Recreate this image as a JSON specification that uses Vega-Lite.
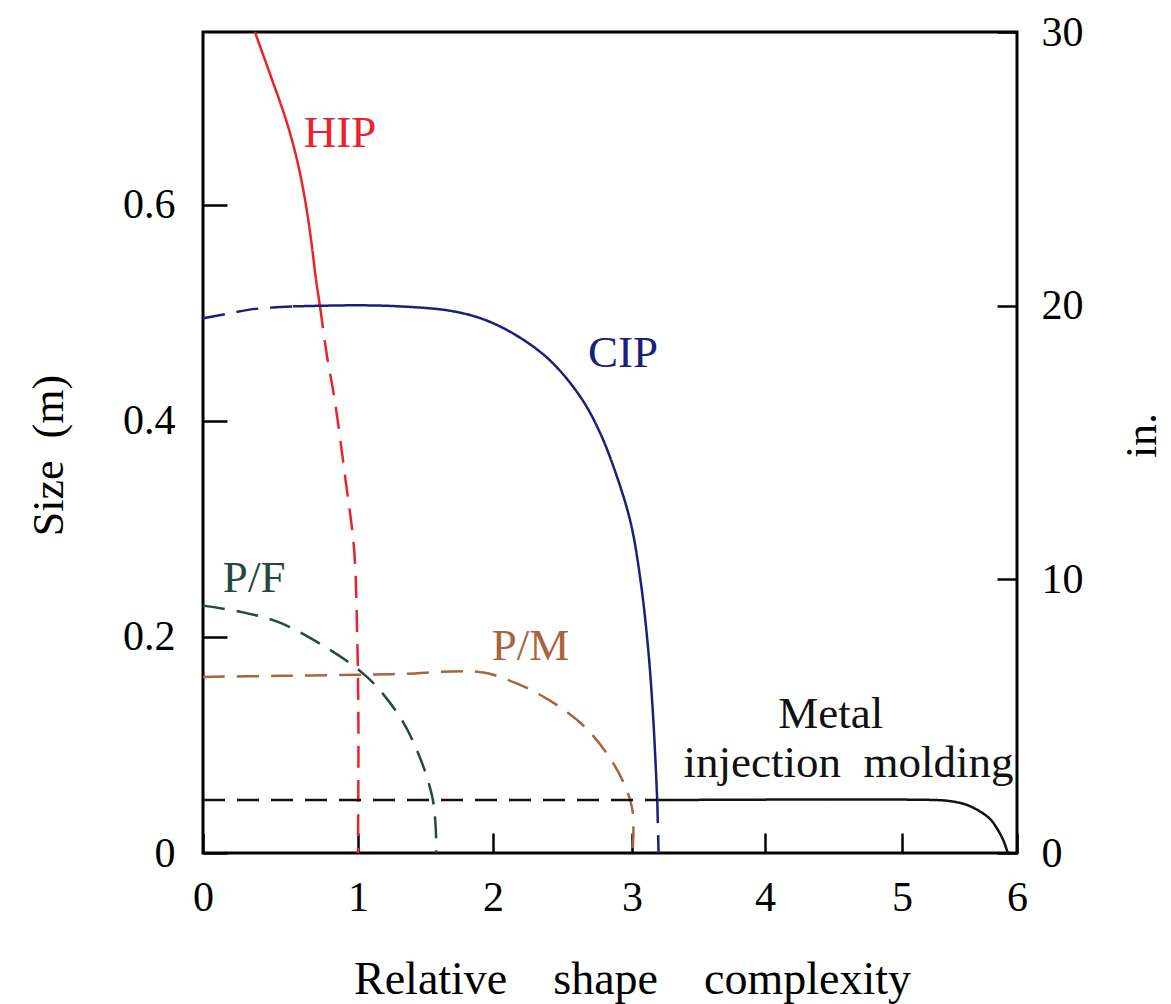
{
  "$schema": "https://vega.github.io/schema/vega-lite/v6.json",
  "width": 814,
  "height": 821,
  "autosize": {"type": "none"},
  "padding": {"left": 203, "top": 32, "right": 154, "bottom": 151},
  "background": "white",
  "config": {
    "view": {"stroke": "black", "strokeWidth": 3},
    "font": "Liberation Serif",
    "axis": {
      "domain": false,
      "grid": false,
      "tickColor": "black",
      "tickWidth": 2.5,
      "labelColor": "black",
      "labelFont": "Liberation Serif",
      "labelFontSize": 42,
      "labelFlush": false,
      "labelOverlap": false,
      "labelBound": false,
      "titleFont": "Liberation Serif",
      "titleFontSize": 44,
      "titleFontWeight": "normal",
      "titleColor": "black"
    }
  },
  "datasets": {
    "curves": [
      {"series": "HIP", "group": "HIP-s", "style": "solid", "i": 0, "x": 0.335, "y": 0.76},
      {"series": "HIP", "group": "HIP-s", "style": "solid", "i": 1, "x": 0.445, "y": 0.716},
      {"series": "HIP", "group": "HIP-s", "style": "solid", "i": 2, "x": 0.535, "y": 0.679},
      {"series": "HIP", "group": "HIP-s", "style": "solid", "i": 3, "x": 0.606, "y": 0.642},
      {"series": "HIP", "group": "HIP-s", "style": "solid", "i": 4, "x": 0.658, "y": 0.605},
      {"series": "HIP", "group": "HIP-s", "style": "solid", "i": 5, "x": 0.697, "y": 0.568},
      {"series": "HIP", "group": "HIP-s", "style": "solid", "i": 6, "x": 0.729, "y": 0.531},
      {"series": "HIP", "group": "HIP-s", "style": "solid", "i": 7, "x": 0.755, "y": 0.506},
      {"series": "HIP", "group": "HIP-d", "style": "dashed", "i": 0, "x": 0.755, "y": 0.506},
      {"series": "HIP", "group": "HIP-d", "style": "dashed", "i": 1, "x": 0.80, "y": 0.46},
      {"series": "HIP", "group": "HIP-d", "style": "dashed", "i": 2, "x": 0.85, "y": 0.419},
      {"series": "HIP", "group": "HIP-d", "style": "dashed", "i": 3, "x": 0.92, "y": 0.345},
      {"series": "HIP", "group": "HIP-d", "style": "dashed", "i": 4, "x": 0.975, "y": 0.281},
      {"series": "HIP", "group": "HIP-d", "style": "dashed", "i": 5, "x": 0.995, "y": 0.2},
      {"series": "HIP", "group": "HIP-d", "style": "dashed", "i": 6, "x": 1.003, "y": 0.12},
      {"series": "HIP", "group": "HIP-d", "style": "dashed", "i": 7, "x": 1.0, "y": 0.0},
      {"series": "CIP", "group": "CIP-d1", "style": "dashed", "i": 0, "x": 0.0, "y": 0.495},
      {"series": "CIP", "group": "CIP-d1", "style": "dashed", "i": 1, "x": 0.15, "y": 0.499},
      {"series": "CIP", "group": "CIP-d1", "style": "dashed", "i": 2, "x": 0.3, "y": 0.503},
      {"series": "CIP", "group": "CIP-d1", "style": "dashed", "i": 3, "x": 0.45, "y": 0.505},
      {"series": "CIP", "group": "CIP-d1", "style": "dashed", "i": 4, "x": 0.58, "y": 0.506},
      {"series": "CIP", "group": "CIP-s", "style": "solid", "i": 0, "x": 0.58, "y": 0.506},
      {"series": "CIP", "group": "CIP-s", "style": "solid", "i": 1, "x": 1.0, "y": 0.507},
      {"series": "CIP", "group": "CIP-s", "style": "solid", "i": 2, "x": 1.31, "y": 0.506},
      {"series": "CIP", "group": "CIP-s", "style": "solid", "i": 3, "x": 1.68, "y": 0.502},
      {"series": "CIP", "group": "CIP-s", "style": "solid", "i": 4, "x": 1.93, "y": 0.494},
      {"series": "CIP", "group": "CIP-s", "style": "solid", "i": 5, "x": 2.17, "y": 0.479},
      {"series": "CIP", "group": "CIP-s", "style": "solid", "i": 6, "x": 2.41, "y": 0.456},
      {"series": "CIP", "group": "CIP-s", "style": "solid", "i": 7, "x": 2.63, "y": 0.422},
      {"series": "CIP", "group": "CIP-s", "style": "solid", "i": 8, "x": 2.77, "y": 0.389},
      {"series": "CIP", "group": "CIP-s", "style": "solid", "i": 9, "x": 2.89, "y": 0.349},
      {"series": "CIP", "group": "CIP-s", "style": "solid", "i": 10, "x": 2.99, "y": 0.306},
      {"series": "CIP", "group": "CIP-s", "style": "solid", "i": 11, "x": 3.06, "y": 0.256},
      {"series": "CIP", "group": "CIP-s", "style": "solid", "i": 12, "x": 3.12, "y": 0.191},
      {"series": "CIP", "group": "CIP-s", "style": "solid", "i": 13, "x": 3.16, "y": 0.124},
      {"series": "CIP", "group": "CIP-s", "style": "solid", "i": 14, "x": 3.19, "y": 0.048},
      {"series": "CIP", "group": "CIP-d2", "style": "dashed", "i": 0, "x": 3.19, "y": 0.048},
      {"series": "CIP", "group": "CIP-d2", "style": "dashed", "i": 1, "x": 3.2, "y": 0.0},
      {"series": "P/F", "group": "PF", "style": "dashed", "i": 0, "x": 0.0, "y": 0.229},
      {"series": "P/F", "group": "PF", "style": "dashed", "i": 1, "x": 0.25, "y": 0.223},
      {"series": "P/F", "group": "PF", "style": "dashed", "i": 2, "x": 0.5, "y": 0.213},
      {"series": "P/F", "group": "PF", "style": "dashed", "i": 3, "x": 0.82, "y": 0.188},
      {"series": "P/F", "group": "PF", "style": "dashed", "i": 4, "x": 1.03, "y": 0.167},
      {"series": "P/F", "group": "PF", "style": "dashed", "i": 5, "x": 1.16, "y": 0.151},
      {"series": "P/F", "group": "PF", "style": "dashed", "i": 6, "x": 1.33, "y": 0.122},
      {"series": "P/F", "group": "PF", "style": "dashed", "i": 7, "x": 1.46, "y": 0.088},
      {"series": "P/F", "group": "PF", "style": "dashed", "i": 8, "x": 1.55, "y": 0.052},
      {"series": "P/F", "group": "PF", "style": "dashed", "i": 9, "x": 1.575, "y": 0.025},
      {"series": "P/F", "group": "PF", "style": "dashed", "i": 10, "x": 1.58, "y": 0.0},
      {"series": "P/M", "group": "PM", "style": "dashed", "i": 0, "x": 0.0, "y": 0.163},
      {"series": "P/M", "group": "PM", "style": "dashed", "i": 1, "x": 0.5, "y": 0.164},
      {"series": "P/M", "group": "PM", "style": "dashed", "i": 2, "x": 1.03, "y": 0.165},
      {"series": "P/M", "group": "PM", "style": "dashed", "i": 3, "x": 1.36, "y": 0.166},
      {"series": "P/M", "group": "PM", "style": "dashed", "i": 4, "x": 1.7, "y": 0.168},
      {"series": "P/M", "group": "PM", "style": "dashed", "i": 5, "x": 1.93, "y": 0.167},
      {"series": "P/M", "group": "PM", "style": "dashed", "i": 6, "x": 2.17, "y": 0.157},
      {"series": "P/M", "group": "PM", "style": "dashed", "i": 7, "x": 2.41, "y": 0.141},
      {"series": "P/M", "group": "PM", "style": "dashed", "i": 8, "x": 2.65, "y": 0.118},
      {"series": "P/M", "group": "PM", "style": "dashed", "i": 9, "x": 2.82, "y": 0.092},
      {"series": "P/M", "group": "PM", "style": "dashed", "i": 10, "x": 2.94, "y": 0.065},
      {"series": "P/M", "group": "PM", "style": "dashed", "i": 11, "x": 3.0, "y": 0.042},
      {"series": "P/M", "group": "PM", "style": "dashed", "i": 12, "x": 3.01, "y": 0.015},
      {"series": "P/M", "group": "PM", "style": "dashed", "i": 13, "x": 3.0, "y": 0.0},
      {"series": "MIM", "group": "MIM-d", "style": "dashed", "i": 0, "x": 0.0, "y": 0.049},
      {"series": "MIM", "group": "MIM-d", "style": "dashed", "i": 1, "x": 3.2, "y": 0.049},
      {"series": "MIM", "group": "MIM-s", "style": "solid", "i": 0, "x": 3.2, "y": 0.049},
      {"series": "MIM", "group": "MIM-s", "style": "solid", "i": 1, "x": 5.3, "y": 0.049},
      {"series": "MIM", "group": "MIM-s", "style": "solid", "i": 2, "x": 5.42, "y": 0.048},
      {"series": "MIM", "group": "MIM-s", "style": "solid", "i": 3, "x": 5.55, "y": 0.045},
      {"series": "MIM", "group": "MIM-s", "style": "solid", "i": 4, "x": 5.67, "y": 0.039},
      {"series": "MIM", "group": "MIM-s", "style": "solid", "i": 5, "x": 5.77, "y": 0.031},
      {"series": "MIM", "group": "MIM-s", "style": "solid", "i": 6, "x": 5.83, "y": 0.022},
      {"series": "MIM", "group": "MIM-s", "style": "solid", "i": 7, "x": 5.88, "y": 0.012},
      {"series": "MIM", "group": "MIM-s", "style": "solid", "i": 8, "x": 5.92, "y": 0.0}
    ],
    "labels": [
      {"series": "HIP", "text": "HIP", "x": 0.884, "y": 0.654},
      {"series": "CIP", "text": "CIP", "x": 2.935, "y": 0.45},
      {"series": "P/F", "text": "P/F", "x": 0.33, "y": 0.242},
      {"series": "P/M", "text": "P/M", "x": 2.27, "y": 0.179},
      {"series": "MIM", "text": "Metal", "x": 4.48, "y": 0.116},
      {"series": "MIM", "text": "injection\u00a0\u00a0molding", "x": 4.61, "y": 0.07}
    ],
    "inches": [{"inch": 0}, {"inch": 30}]
  },
  "layer": [
    {
      "layer": [
        {
          "data": {"name": "curves"},
          "mark": {"type": "line", "strokeWidth": 2.5, "interpolate": "catmull-rom"},
          "encoding": {
            "x": {
              "field": "x", "type": "quantitative",
              "scale": {"domain": [0, 1, 2, 3, 4, 5, 6], "range": [0, 155, 290, 429, 562, 699, 814], "nice": false},
              "axis": {
                "values": [0, 1, 2, 3, 4, 5, 6],
                "format": "d",
                "tickSize": -20,
                "labelPadding": 44,
                "title": "Relative\u00a0\u00a0\u00a0\u00a0shape\u00a0\u00a0\u00a0\u00a0complexity",
                "titleX": 429,
                "titleY": 140,
                "titleAlign": "center",
                "titleBaseline": "alphabetic",
                "titleFontSize": 46
              }
            },
            "y": {
              "field": "y", "type": "quantitative",
              "scale": {"domain": [0, 0.76], "nice": false},
              "axis": {
                "values": [0, 0.2, 0.4, 0.6],
                "labelExpr": "datum.value == 0 ? '0' : format(datum.value, '.1f')",
                "tickSize": -24,
                "labelPadding": 52,
                "title": "Size\u00a0\u00a0(m)",
                "titleAngle": 270,
                "titleX": -141,
                "titleY": 423,
                "titleAlign": "center",
                "titleBaseline": "alphabetic"
              }
            },
            "color": {
              "field": "series", "type": "nominal",
              "scale": {"domain": ["HIP", "CIP", "P/F", "P/M", "MIM"], "range": ["#e8232b", "#1c1f78", "#244a3e", "#a8643c", "#111111"]},
              "legend": null
            },
            "strokeDash": {
              "field": "style", "type": "nominal",
              "scale": {"domain": ["solid", "dashed"], "range": [[1, 0], [22, 12]]},
              "legend": null
            },
            "detail": {"field": "group"},
            "order": {"field": "i", "type": "quantitative"}
          }
        },
        {
          "data": {"name": "labels"},
          "mark": {"type": "text", "font": "Liberation Serif", "fontSize": 45, "align": "center", "baseline": "alphabetic"},
          "encoding": {
            "x": {"field": "x", "type": "quantitative"},
            "y": {"field": "y", "type": "quantitative"},
            "text": {"field": "text"},
            "color": {"field": "series", "type": "nominal", "legend": null}
          }
        }
      ]
    },
    {
      "data": {"name": "inches"},
      "mark": {"type": "point", "opacity": 0},
      "encoding": {
        "y": {
          "field": "inch", "type": "quantitative",
          "scale": {"domain": [0, 30], "nice": false},
          "axis": {
            "orient": "right",
            "values": [0, 10, 20, 30],
            "tickSize": -20,
            "labelPadding": 44,
            "title": "in.",
            "titleAngle": 270,
            "titleX": 138,
            "titleY": 403,
            "titleAlign": "center",
            "titleBaseline": "alphabetic"
          }
        }
      }
    }
  ],
  "resolve": {"scale": {"y": "independent"}, "axis": {"y": "independent"}}
}
